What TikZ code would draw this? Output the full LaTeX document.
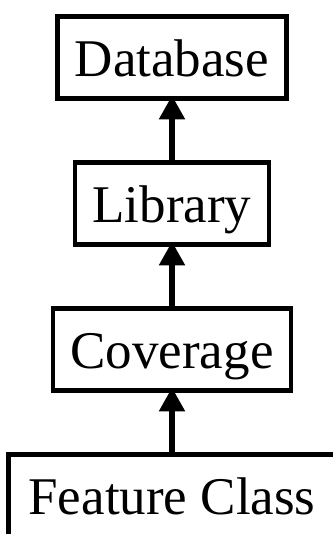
\documentclass[tikz,border=0pt]{standalone}
\usepackage{fontspec}
\setmainfont{Liberation Serif}
\usepackage{tikz}
\usetikzlibrary{
  positioning,
  arrows.meta
}

\begin{document}
\begin{tikzpicture}[
    x=1pt, y=1pt,
    level/.style={draw, line width=4.5pt, font=\fontsize{53}{60}\selectfont,
      minimum height=82pt, inner xsep=17.5pt, inner ysep=0pt, outer sep=0pt,
      text height=39pt, text depth=0pt},
    up/.style={line width=5.5pt, -{Triangle[width=25pt,length=24pt]}, shorten >=-3pt}
  ]
      % Canvas
      \useasboundingbox (0,0) rectangle (332,534);

      % Levels
      \node[level] (database) at (172,476.5) {Database};
      \node[level, below=64pt of database] (library) {Library};
      \node[level, below=64pt of library] (coverage) {Coverage};
      \node[level, below=64pt of coverage, inner xsep=20pt] (feature) {Feature Class};

      % Arrows
      \draw[up] (library.north) -- (database.south);
      \draw[up] (coverage.north) -- (library.south);
      \draw[up] (feature.north) -- (coverage.south);
    \end{tikzpicture}
\end{document}
